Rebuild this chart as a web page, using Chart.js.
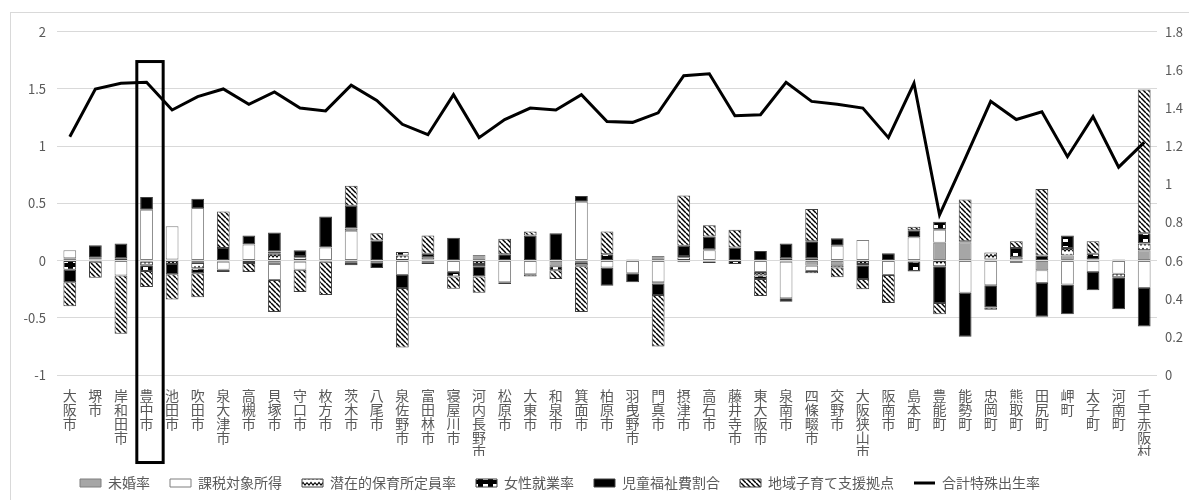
<!DOCTYPE html>
<html lang="ja">
<head>
<meta charset="utf-8">
<script src="https://cdn.jsdelivr.net/npm/chart.js@4.4.1/dist/chart.umd.min.js"></script>
<style>
  body { margin: 0; background: #fff; overflow: hidden; }
  .frame { position: absolute; left: 10px; top: 12px; width: 1200px; height: 490px; border: 1px solid #d9d9d9; }
  .wrap { position: absolute; left: 11px; top: 13px; width: 1178px; height: 487px; }
</style>
</head>
<body>
<div class="frame"></div>
<div class="wrap"><canvas id="chart"></canvas></div>
<script>
// Data

const cities = ["大阪市", "堺市", "岸和田市", "豊中市", "池田市", "吹田市", "泉大津市", "高槻市", "貝塚市", "守口市",
    "枚方市", "茨木市", "八尾市", "泉佐野市", "富田林市", "寝屋川市", "河内長野市", "松原市", "大東市", "和泉市",
    "箕面市", "柏原市", "羽曳野市", "門真市", "摂津市", "高石市", "藤井寺市", "東大阪市", "泉南市", "四條畷市",
    "交野市", "大阪狭山市", "阪南市", "島本町", "豊能町", "能勢町", "忠岡町", "熊取町", "田尻町", "岬町",
    "太子町", "河南町", "千早赤阪村"];

const mikon = [0.02, 0.01, 0, -0.01, 0.01, -0.02, -0.01, 0, -0.03, -0.01,
    -0.01, -0.02, -0.015, 0.005, 0.01, 0, 0.05, 0.005, 0, -0.05,
    -0.02, 0.005, 0.01, 0.04, -0.015, -0.01, 0.005, 0, -0.01, -0.045,
    -0.04, 0, 0, -0.01, 0.155, 0.16, 0.01, 0.01, -0.085, 0.045,
    0.01, 0.01, 0.09];

const kazei = [0.07, 0.015, -0.13, 0.445, 0.29, 0.46, -0.07, 0.14, -0.14, -0.07,
    0.115, 0.26, 0, -0.125, -0.02, -0.10, 0, -0.19, -0.12, 0,
    0.515, -0.06, -0.11, -0.19, 0, 0.09, 0, -0.10, -0.32, -0.045,
    0.13, 0.18, -0.125, 0.205, 0.115, -0.28, -0.215, -0.02, -0.11, -0.21,
    -0.1, -0.115, -0.24];

const senzai = [0, -0.01, 0, -0.03, -0.03, -0.05, 0, -0.02, 0.06, 0.03,
    0, 0.02, 0, 0.04, 0.02, 0, -0.03, 0, -0.02, 0,
    -0.02, 0, 0, 0, 0.03, 0.01, 0, -0.03, 0.02, -0.02,
    -0.02, -0.03, 0, 0, -0.05, 0, 0.06, 0.02, 0, 0.065,
    0, -0.03, 0.06];

const josei = [-0.08, 0, 0.02, -0.05, 0, -0.04, -0.02, 0, 0.02, 0.01,
    0, -0.02, -0.05, 0.03, -0.01, -0.04, -0.02, -0.015, 0, -0.035,
    -0.01, 0.05, 0, -0.01, 0.01, -0.01, -0.03, -0.03, -0.03, 0.02,
    0, -0.01, 0, -0.085, 0.07, 0.01, 0, 0.08, 0.045, 0.11,
    0.05, 0, 0.09];

const jido = [-0.11, 0.11, 0.13, 0.11, -0.09, 0.08, 0.11, 0.08, 0.165, 0.05,
    0.27, 0.20, 0.175, -0.115, 0.03, 0.20, -0.09, 0.05, 0.22, 0.24,
    0.05, -0.16, -0.08, -0.10, 0.09, 0.11, 0.11, 0.085, 0.13, 0.15,
    0.065, -0.12, 0.065, 0.06, -0.32, -0.385, -0.195, 0, -0.295, -0.26,
    -0.16, -0.28, -0.335];

const chiiki = [-0.21, -0.14, -0.51, -0.14, -0.22, -0.21, 0.32, -0.08, -0.28, -0.195,
    -0.29, 0.175, 0.065, -0.52, 0.16, -0.105, -0.14, 0.135, 0.035, -0.075,
    -0.40, 0.20, 0, -0.45, 0.44, 0.10, 0.155, -0.15, 0, 0.28,
    -0.085, -0.09, -0.245, 0.03, -0.10, 0.365, -0.02, 0.06, 0.58, 0,
    0.11, 0, 1.255];

const birthRate = [1.25, 1.50, 1.53, 1.535, 1.39, 1.46, 1.50, 1.42, 1.485, 1.40,
    1.385, 1.52, 1.44, 1.315, 1.26, 1.47, 1.245, 1.34, 1.40, 1.39,
    1.47, 1.33, 1.325, 1.375, 1.57, 1.58, 1.36, 1.365, 1.535, 1.435,
    1.42, 1.40, 1.245, 1.53, 0.84, 1.135, 1.435, 1.34, 1.38, 1.145,
    1.355, 1.09, 1.22];

// vertical labels: one character per line
const labels = cities.map(name => Array.from(name));

// Patterns

const canvas = document.querySelector("#chart");
const ctx = canvas.getContext("2d");

function makePattern(w, h, draw) {
    const c = document.createElement("canvas");
    c.width = w;
    c.height = h;
    draw(c.getContext("2d"), w, h);
    return ctx.createPattern(c, "repeat");
}

const hatch = makePattern(5, 5, (g, w, h) => {
    g.fillStyle = "#fff";
    g.fillRect(0, 0, w, h);
    g.strokeStyle = "#000";
    g.lineWidth = 1.5;
    [-5, 0, 5].forEach(o => {
        g.beginPath();
        g.moveTo(o, 0);
        g.lineTo(o + w, h);
        g.stroke();
    });
});

const wave = makePattern(8, 6, (g, w, h) => {
    g.fillStyle = "#fff";
    g.fillRect(0, 0, w, h);
    g.strokeStyle = "#000";
    g.lineWidth = 1.2;
    g.beginPath();
    g.moveTo(0, 1.5);
    g.lineTo(2, 4);
    g.lineTo(4, 1.5);
    g.lineTo(6, 4);
    g.lineTo(8, 1.5);
    g.stroke();
});

const brick = makePattern(10, 7, (g, w, h) => {
    g.fillStyle = "#000";
    g.fillRect(0, 0, w, h);
    g.fillStyle = "#fff";
    g.fillRect(2, 2, 5, 3);
});

// Highlight box around 豊中市

const highlight = {
    id: "highlight",
    afterDatasetsDraw(chart) {
        const xs = chart.scales.x;
        const ys = chart.scales.y;
        const i = cities.indexOf("豊中市");
        const cw = xs.width / cities.length;
        const cx = xs.getPixelForValue(i);
        const left = cx - 0.38 * cw;
        const right = cx + 0.65 * cw;
        const top = ys.getPixelForValue(1.74);
        const bottom = ys.getPixelForValue(-1.765);
        const c = chart.ctx;
        c.save();
        c.strokeStyle = "#000";
        c.lineWidth = 3;
        c.strokeRect(left, top, right - left, bottom - top);
        c.restore();
    }
};

// legend sits a bit left of the canvas centre
const legendShift = {
    id: "legendShift",
    afterLayout(chart) {
        chart.legend.left -= 40;
        chart.legend.right -= 40;
    }
};

function barSet(label, data, fill, border) {
    return {
        type: "bar",
        label: label,
        data: data,
        backgroundColor: fill,
        borderColor: border,
        borderWidth: 1,
        borderSkipped: false,
        barPercentage: 0.5,
        categoryPercentage: 1,
        yAxisID: "y",
        stack: "s",
        order: 1,
        pointStyle: "rect"
    };
}

// tick text like 2, 1.5, 1, 0.5 (no trailing zero)
const plainNum = v => String(Number(v.toFixed(2)));

Chart.defaults.font.family = "'Noto Sans CJK JP', 'Noto Sans', sans-serif";
Chart.defaults.color = "#595959";

new Chart(ctx, {
    data: {
        labels: labels,
        datasets: [
            barSet("未婚率", mikon, "#a6a6a6", "#7f7f7f"),
            barSet("課税対象所得", kazei, "#ffffff", "#7f7f7f"),
            barSet("潜在的保育所定員率", senzai, wave, "#404040"),
            barSet("女性就業率", josei, brick, "#404040"),
            barSet("児童福祉費割合", jido, "#000000", "#404040"),
            barSet("地域子育て支援拠点", chiiki, hatch, "#404040"),
            {
                type: "line",
                label: "合計特殊出生率",
                data: birthRate,
                borderColor: "#000",
                backgroundColor: "#000",
                borderWidth: 3,
                pointRadius: 0,
                tension: 0,
                fill: false,
                yAxisID: "y1",
                order: 0,
                pointStyle: "line"
            }
        ]
    },
    options: {
        responsive: true,
        maintainAspectRatio: false,
        animation: false,
        layout: { padding: { top: 10, left: 0, right: 0, bottom: 0 } },
        plugins: {
            tooltip: { enabled: false },
            legend: {
                position: "bottom",
                labels: {
                    usePointStyle: true,
                    pointStyleWidth: 21,
                    boxHeight: 8,
                    padding: 20,
                    color: "#595959",
                    font: { size: 14 },
                    sort: (a, b) => a.datasetIndex - b.datasetIndex
                }
            }
        },
        scales: {
            x: {
                stacked: true,
                grid: { display: false },
                border: { display: false },
                ticks: {
                    autoSkip: false,
                    maxRotation: 0,
                    minRotation: 0,
                    padding: 6,
                    color: "#595959",
                    font: { size: 14, lineHeight: 1.0 }
                },
                afterFit: s => { s.height = 81; }
            },
            y: {
                stacked: true,
                min: -1,
                max: 2,
                ticks: { stepSize: 0.5, padding: 11, color: "#595959", font: { size: 13 }, callback: plainNum },
                grid: { color: "#d9d9d9", drawTicks: false },
                border: { display: false },
                afterFit: s => { s.width = 46; }
            },
            y1: {
                position: "right",
                min: 0,
                max: 1.8,
                ticks: { stepSize: 0.2, padding: 8, color: "#595959", font: { size: 13 }, callback: plainNum },
                grid: { display: false, drawTicks: false },
                border: { display: false },
                afterFit: s => { s.width = 32; }
            }
        }
    },
    plugins: [highlight, legendShift]
});
</script>
</body>
</html>
